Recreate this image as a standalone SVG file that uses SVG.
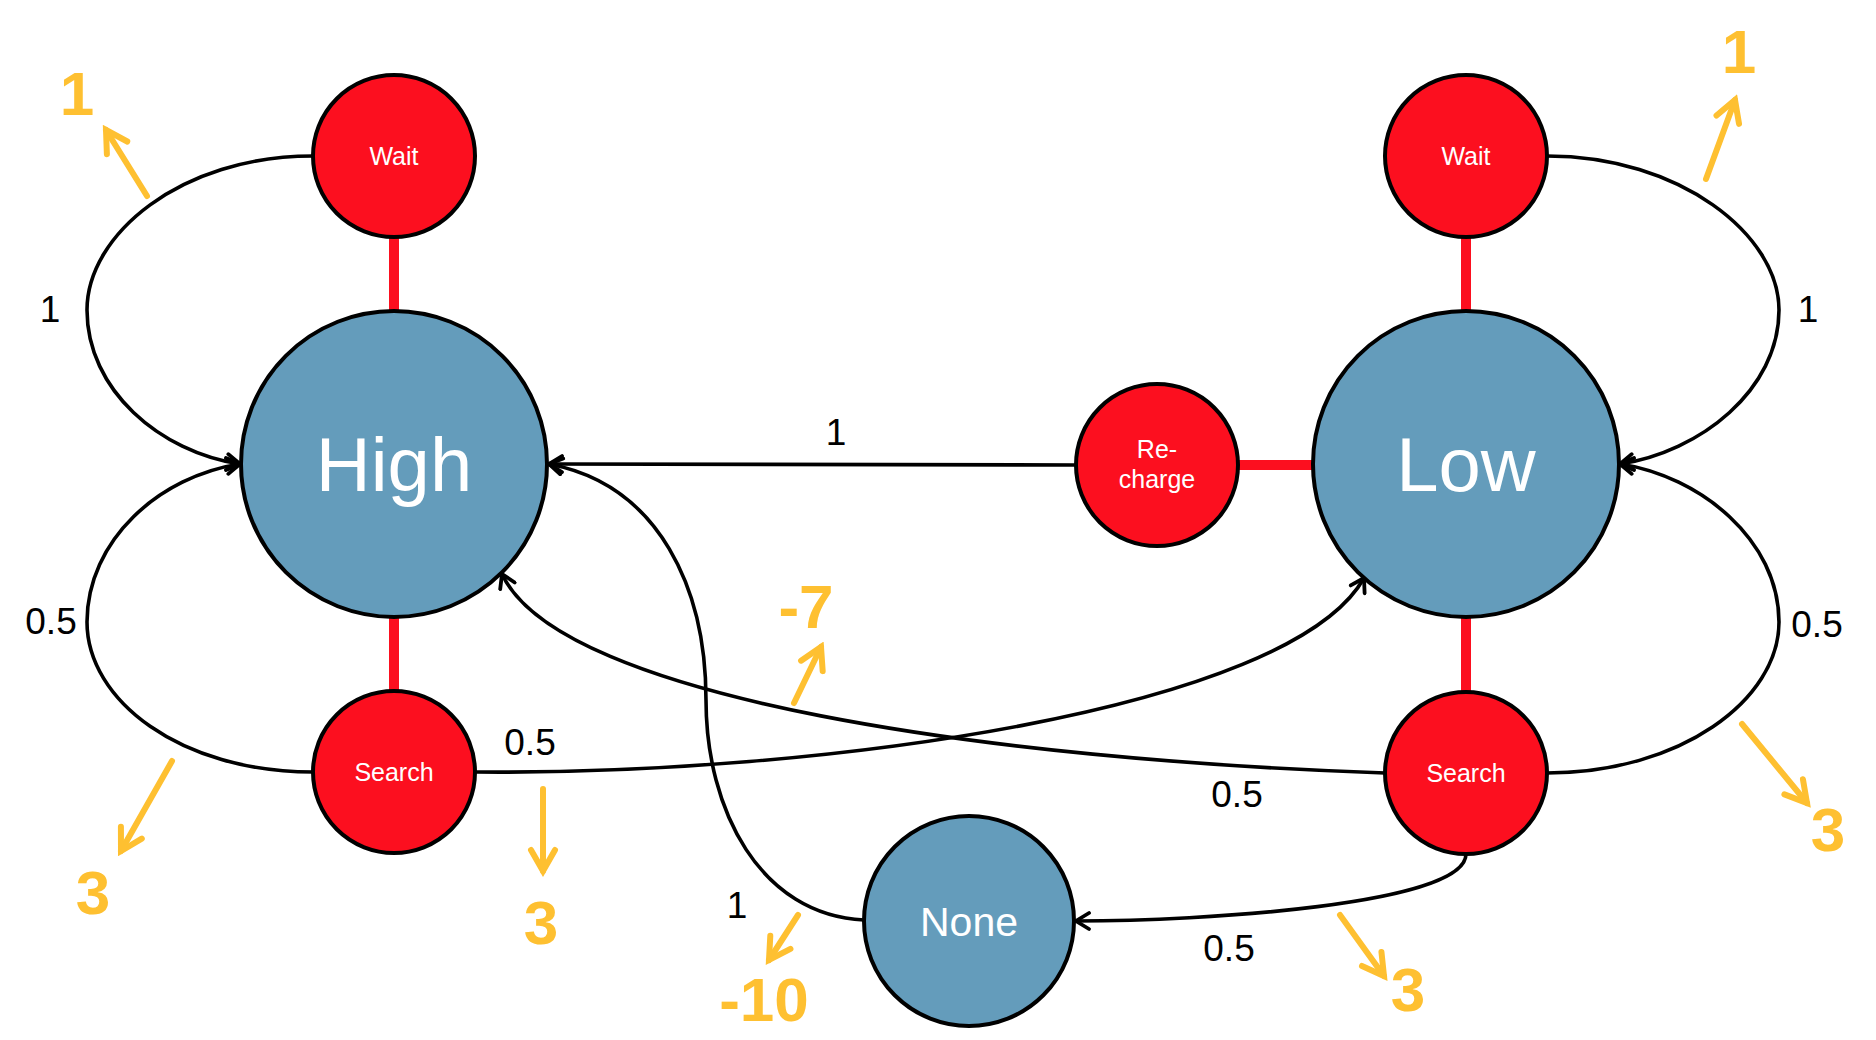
<svg xmlns="http://www.w3.org/2000/svg" width="1876" height="1040" viewBox="0 0 1876 1040">
  <style>
    .state { fill: #649CBB; stroke: #000; stroke-width: 4; }
    .action { fill: #FC0F1F; stroke: #000; stroke-width: 4; }
    .big { font-family: "Liberation Sans", Arial, sans-serif; fill: #fff; text-anchor: middle; }
    .small { font-family: "Liberation Sans", Arial, sans-serif; font-size: 25px; fill: #fff; text-anchor: middle; }
    .link { fill: none; stroke: #FC0F1F; stroke-width: 10; }
    .edge { fill: none; stroke: #000; stroke-width: 3.6; marker-end: url(#arrow); }
    .prob { font-family: "Liberation Sans", Arial, sans-serif; font-size: 37px; fill: #000; text-anchor: middle; }
    .reward { fill: none; stroke: #FEC031; stroke-width: 6; stroke-linecap: round; marker-end: url(#rarrow); }
    .rval { font-family: "Liberation Sans", Arial, sans-serif; font-weight: bold; font-size: 62px; fill: #FEC031; text-anchor: middle; }
  </style>
  <defs>
    <marker id="arrow" markerUnits="userSpaceOnUse" viewBox="-16 -10 20 20" markerWidth="20" markerHeight="20" refX="0" refY="0" orient="auto">
      <path d="M-13,-8 L0,0 L-13,8" fill="none" stroke="#000" stroke-width="3.8" stroke-linecap="round"/>
    </marker>
    <marker id="rarrow" markerUnits="userSpaceOnUse" viewBox="-26 -17 32 34" markerWidth="32" markerHeight="34" refX="0" refY="0" orient="auto">
      <path d="M-21,-12 L0,0 L-21,12" fill="none" stroke="#FEC031" stroke-width="6" stroke-linecap="round"/>
    </marker>
  </defs>

  <rect width="1876" height="1040" fill="#fff"/>

  <!-- connectors -->
  <g id="connectors">
    <!-- action bars -->
    <line class="link" x1="394" y1="237" x2="394" y2="311"/>
    <line class="link" x1="394" y1="617" x2="394" y2="691"/>
    <line class="link" x1="1466" y1="237" x2="1466" y2="311"/>
    <line class="link" x1="1466" y1="617" x2="1466" y2="692"/>
    <line class="link" x1="1238" y1="465" x2="1313" y2="465"/>

    <!-- transitions -->
    <path class="edge" d="M313,156 C180,156 87,235 87,310 C87,390 160,452 240,464"/>
    <path class="edge" d="M313,772 C180,772 87,700 87,622 C87,540 160,476 240,464"/>
    <path class="edge" d="M1547,156 C1680,156 1779,235 1779,310 C1779,390 1700,452 1620,464"/>
    <path class="edge" d="M1547,773 C1680,773 1779,700 1779,622 C1779,540 1700,476 1620,464"/>
    <path class="edge" d="M1076,465 L549,464"/>
    <path class="edge" d="M864,920 C760,915 706,810 706,700 C706,590 660,485 549,464"/>
    <path class="edge" d="M476,772 C820,775 1290,710 1364,578"/>
    <path class="edge" d="M1385,773 C1000,760 560,700 502,574"/>
    <path class="edge" d="M1466,854 C1466,905 1200,921 1076,921"/>

    <!-- transition probabilities -->
    <text class="prob" x="50" y="322">1</text>
    <text class="prob" x="1808" y="322">1</text>
    <text class="prob" x="51" y="634">0.5</text>
    <text class="prob" x="1817" y="637">0.5</text>
    <text class="prob" x="836" y="445">1</text>
    <text class="prob" x="530" y="755">0.5</text>
    <text class="prob" x="1237" y="807">0.5</text>
    <text class="prob" x="737" y="918">1</text>
    <text class="prob" x="1229" y="961">0.5</text>

    <!-- rewards -->
    <line class="reward" x1="147" y1="196" x2="106" y2="130"/>
    <text class="rval" x="77" y="115">1</text>
    <line class="reward" x1="1706" y1="179" x2="1735" y2="100"/>
    <text class="rval" x="1739" y="73">1</text>
    <line class="reward" x1="172" y1="761" x2="121" y2="851"/>
    <text class="rval" x="93" y="914">3</text>
    <line class="reward" x1="543" y1="789" x2="543" y2="871"/>
    <text class="rval" x="541" y="944">3</text>
    <line class="reward" x1="794" y1="703" x2="821" y2="647"/>
    <text class="rval" x="806" y="628">-7</text>
    <line class="reward" x1="1742" y1="724" x2="1807" y2="803"/>
    <text class="rval" x="1828" y="851">3</text>
    <line class="reward" x1="1340" y1="915" x2="1384" y2="976"/>
    <text class="rval" x="1408" y="1011">3</text>
    <line class="reward" x1="798" y1="915" x2="769" y2="960"/>
    <text class="rval" x="764" y="1021">-10</text>
  </g>

  <!-- states -->
  <g id="high">
    <circle class="state" cx="394" cy="464" r="153"/>
    <text class="big" x="394" y="491" font-size="76">High</text>
  </g>
  <g id="low">
    <circle class="state" cx="1466" cy="464" r="153"/>
    <text class="big" x="1466" y="491" font-size="76">Low</text>
  </g>
  <g id="none">
    <circle class="state" cx="969" cy="921" r="105"/>
    <text class="big" x="969" y="936" font-size="41">None</text>
  </g>

  <!-- actions -->
  <g id="wait-high">
    <circle class="action" cx="394" cy="156" r="81"/>
    <text class="small" x="394" y="165">Wait</text>
  </g>
  <g id="search-high">
    <circle class="action" cx="394" cy="772" r="81"/>
    <text class="small" x="394" y="781">Search</text>
  </g>
  <g id="wait-low">
    <circle class="action" cx="1466" cy="156" r="81"/>
    <text class="small" x="1466" y="165">Wait</text>
  </g>
  <g id="search-low">
    <circle class="action" cx="1466" cy="773" r="81"/>
    <text class="small" x="1466" y="782">Search</text>
  </g>
  <g id="recharge">
    <circle class="action" cx="1157" cy="465" r="81"/>
    <text class="small" x="1157" y="458">Re-</text>
    <text class="small" x="1157" y="488">charge</text>
  </g>
</svg>
